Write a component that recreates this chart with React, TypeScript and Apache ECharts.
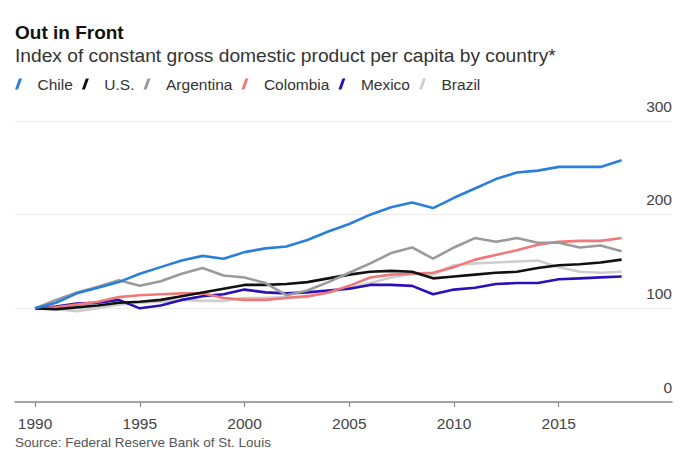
import React, { useEffect, useRef } from "react";
import * as echarts from "echarts";

const years = [1990, 1991, 1992, 1993, 1994, 1995, 1996, 1997, 1998, 1999, 2000, 2001, 2002, 2003, 2004, 2005, 2006, 2007, 2008, 2009, 2010, 2011, 2012, 2013, 2014, 2015, 2016, 2017, 2018];
const chile = [100, 106, 116, 122, 128, 137, 144, 151, 156, 153, 160, 164, 166, 173, 182, 190, 200, 208, 213, 207, 218, 228, 238, 245, 247, 251, 251, 251, 258];
const us = [100, 99, 101, 103, 106, 107, 109, 113, 117, 121, 125, 125, 126, 128, 132, 136, 139, 140, 139, 132, 134, 136, 138, 139, 143, 146, 147, 149, 152];
const argentina = [100, 109, 117, 123, 130, 124, 129, 137, 143, 135, 133, 127, 114, 119, 128, 138, 148, 159, 165, 153, 165, 175, 171, 175, 170, 170, 165, 167, 161];
const colombia = [100, 101, 104, 107, 112, 114, 115, 116, 116, 111, 109, 109, 111, 113, 117, 124, 133, 136, 137, 138, 144, 152, 157, 162, 168, 171, 172, 172, 175];
const mexico = [100, 102, 105, 106, 109, 100, 103, 109, 113, 115, 120, 117, 116, 117, 119, 121, 125, 125, 124, 115, 120, 122, 126, 127, 127, 131, 132, 133, 134];
const brazil = [100, 99, 97, 100, 104, 106, 107, 109, 108, 108, 111, 111, 112, 112, 117, 122, 127, 133, 137, 136, 146, 148, 149, 150, 151, 144, 139, 138, 139];

const seriesNames = ["Chile", "U.S.", "Argentina", "Colombia", "Mexico", "Brazil"];
const seriesData = [chile, us, argentina, colombia, mexico, brazil];
const seriesColors = ["#2b7fdc", "#111111", "#9a9a9a", "#f07878", "#2a10b8", "#cdcdcd"];
const xTickLabels = [1990, 1995, 2000, 2005, 2010, 2015];
const yTicks = [0, 100, 200, 300];

const title = "Out in Front";
const subtitle = "Index of constant gross domestic product per capita by country*";
const source = "Source: Federal Reserve Bank of St. Louis";

const FONT = "'Liberation Sans', Arial, sans-serif";

export default function App() {
  const ref = useRef<HTMLDivElement>(null);
  useEffect(() => {
    if (!ref.current) return;
    const chart = echarts.init(ref.current, undefined, { renderer: "svg" });
    const drawOrder = [5, 4, 3, 1, 2, 0];
    chart.setOption({
      animation: false,
      backgroundColor: "#ffffff",
      textStyle: { fontFamily: FONT },
      graphic: [
        { type: "text", left: 15, top: 23, style: { text: title, font: `bold 19px ${FONT}`, fill: "#111" } },
        { type: "text", left: 15, top: 46, style: { text: subtitle, font: `19.2px ${FONT}`, fill: "#333" } },
        { type: "text", left: 15, top: 435, style: { text: source, font: `13.5px ${FONT}`, fill: "#555" } },
      ],
      legend: {
        left: 10,
        top: 71,
        icon: "path://M0,10L3.6,0L6.4,0L2.8,10Z",
        itemWidth: 8,
        itemHeight: 11,
        itemGap: 9,
        data: seriesNames,
        textStyle: { fontSize: 15.5, color: "#333", fontFamily: FONT, padding: [0, 0, 0, 10] },
      },
      grid: { left: 15, right: 28, top: 121, bottom: 48 },
      xAxis: {
        type: "value",
        min: 1989.045,
        max: 2020.406,
        splitLine: { show: false },
        axisLine: { show: true, lineStyle: { color: "#8a8a8a", width: 1.5 } },
        axisTick: { show: true, customValues: xTickLabels, length: 5, lineStyle: { color: "#8a8a8a", width: 1.2 } },
        axisLabel: {
          customValues: xTickLabels,
          fontSize: 15.5,
          color: "#444",
          margin: 13,
          formatter: (v: number) => String(v),
        },
      },
      yAxis: {
        type: "value",
        position: "right",
        min: 0,
        max: 300,
        interval: 100,
        axisLine: { show: false },
        axisTick: { show: false },
        splitLine: { show: true, lineStyle: { color: "#ececec", width: 1 } },
        axisLabel: {
          inside: true,
          margin: 0,
          align: "right",
          verticalAlign: "bottom",
          padding: [0, 0, 7, 0],
          fontSize: 15.5,
          color: "#444",
          customValues: yTicks,
        },
      },
      series: drawOrder.map((i) => ({
        name: seriesNames[i],
        type: "line",
        data: years.map((y, k) => [y, seriesData[i][k]]),
        showSymbol: false,
        symbol: "none",
        lineStyle: { color: seriesColors[i], width: 2.6 },
        itemStyle: { color: seriesColors[i] },
        z: 2,
      })),
    });
    return () => chart.dispose();
  }, []);
  return <div ref={ref} style={{ width: 700, height: 450, position: "fixed", left: 0, top: 0 }} />;
}
